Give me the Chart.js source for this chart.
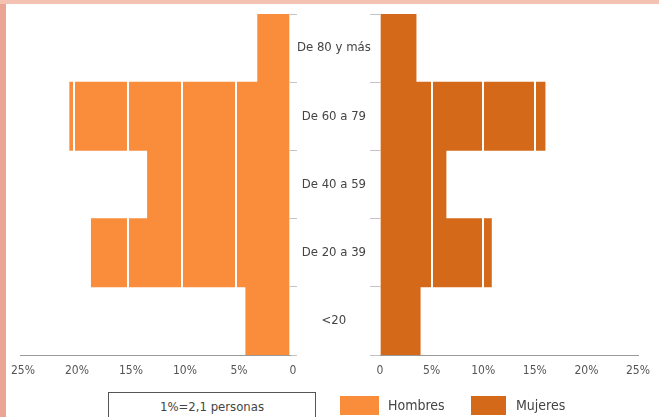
<!DOCTYPE html>
<html>
<head>
<meta charset="utf-8">
<script src="https://cdn.jsdelivr.net/npm/chart.js@4/dist/chart.umd.min.js"></script>
<style>
  html, body { margin: 0; padding: 0; background: #fff; }
  #wrap { position: relative; width: 659px; height: 417px; overflow: hidden; background: #fff; }
  .strip-left { position: absolute; left: 0; top: 0; width: 6px; height: 417px; background: #eaa595; }
  .strip-top { position: absolute; left: 0; top: 0; width: 659px; height: 4px; background: #f4c2b3; }
  canvas { position: absolute; top: 0; }
  #cL { left: 0; }
  #cR { left: 340px; }
  .note { position: absolute; left: 108px; top: 392px; width: 208px; height: 40px; border: 1px solid #555;
          box-sizing: border-box; font: 13px 'Liberation Sans Narrow', 'DejaVu Sans Condensed', sans-serif; color: #444;
          text-align: center; padding-top: 6px; }
  .sw { position: absolute; top: 396px; height: 19px; }
  .lt { position: absolute; top: 397px; font: 14px 'Liberation Sans Narrow', 'DejaVu Sans Condensed', sans-serif; color: #444; }
</style>
</head>
<body>
<div id="wrap">
  <canvas id="cL" width="380" height="385"></canvas>
  <canvas id="cR" width="319" height="385"></canvas>
  <div class="strip-left"></div>
  <div class="strip-top"></div>
  <div class="note">1%=2,1 personas</div>
  <div class="sw" style="left:340px;width:39px;background:#f98d3b"></div>
  <div class="lt" style="left:388px">Hombres</div>
  <div class="sw" style="left:471px;width:35px;background:#d5691a"></div>
  <div class="lt" style="left:516px">Mujeres</div>
</div>
<script>
const categories = ['De 80 y más', 'De 60 a 79', 'De 40 a 59', 'De 20 a 39', '<20'];
const hombres = [3, 20.4, 13.2, 18.4, 4.1];
const mujeres = [3.5, 16, 6.4, 10.8, 3.9];
const tickValues = [0, 5, 10, 15, 20, 25];
const seriesNames = ['Hombres', 'Mujeres'];
const colors = ['#f98d3b', '#d5691a'];

const FONT = "'Liberation Sans Narrow', 'DejaVu Sans Condensed', sans-serif";

function xScale(reverse, labelOffset) {
  return {
    type: 'linear', min: 0, max: 25, reverse: reverse, position: 'bottom',
    afterBuildTicks: s => { s.ticks = tickValues.map(v => ({ value: v })); },
    ticks: {
      font: { family: FONT, size: 12 }, color: '#555', padding: 9, maxRotation: 0, labelOffset: labelOffset,
      callback: v => v === 0 ? '0' : v + '%'
    },
    grid: {
      z: 1, drawTicks: false, lineWidth: 2,
      color: c => (c.tick && c.tick.value > 0 && c.tick.value < 25) ? '#ffffff' : 'rgba(0,0,0,0)'
    },
    border: { display: true, color: '#9a9a9a', width: 1, z: 1 },
    afterFit: s => { s.height = 30; }
  };
}

function common(pad) {
  return {
    responsive: false, maintainAspectRatio: false, animation: false,
    indexAxis: 'y',
    layout: { padding: pad },
    plugins: { legend: { display: false }, tooltip: { enabled: false } }
  };
}

const optL = common({ left: 20, top: 14, right: 0, bottom: 0 });
optL.scales = {
  x: xScale(true, 3),
  y: {
    type: 'category', position: 'right', offset: true,
    ticks: { font: { family: FONT, size: 13 }, color: '#444', padding: 0, crossAlign: 'center' },
    grid: { drawOnChartArea: false, drawTicks: true, tickLength: 7, color: '#c4c4c4', offset: true },
    border: { display: false },
    afterFit: s => { s.width = 90; }
  }
};

new Chart(document.getElementById('cL'), {
  type: 'bar',
  data: {
    labels: categories,
    datasets: [{ label: seriesNames[0], data: hombres, backgroundColor: colors[0], borderWidth: 0,
                 barPercentage: 1, categoryPercentage: 1 }]
  },
  options: optL
});

const optR = common({ left: 30, top: 14, right: 16, bottom: 0 });
optR.scales = {
  x: xScale(false, 0),
  y: {
    type: 'category', position: 'left', offset: true,
    ticks: { display: false },
    grid: { drawOnChartArea: false, drawTicks: true, tickLength: 10, color: '#c4c4c4', offset: true },
    border: { display: false },
    afterFit: s => { s.width = 10; }
  }
};

new Chart(document.getElementById('cR'), {
  type: 'bar',
  data: {
    labels: categories,
    datasets: [{ label: seriesNames[1], data: mujeres, backgroundColor: colors[1], borderWidth: 0,
                 barPercentage: 1, categoryPercentage: 1 }]
  },
  options: optR
});
</script>
</body>
</html>
